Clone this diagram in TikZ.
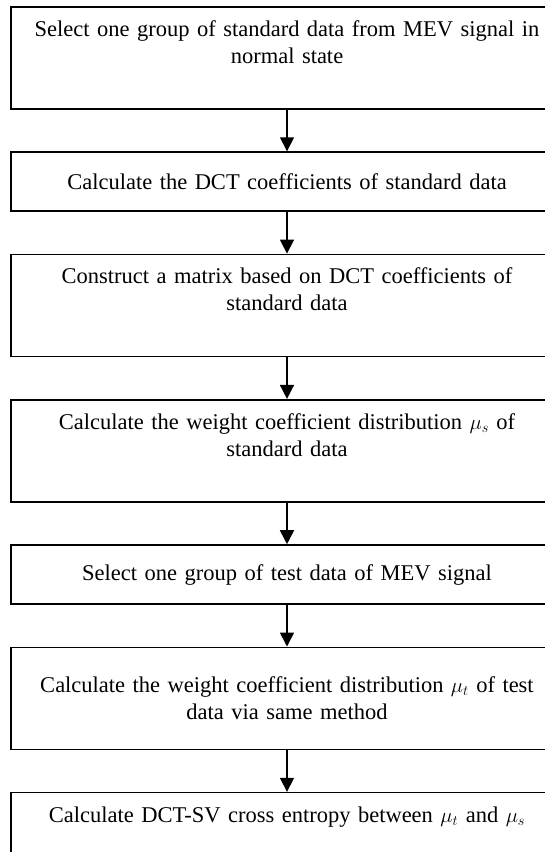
\documentclass[tikz,border=0pt]{standalone}
\usepackage{amsmath}
\usepackage{fontspec}
\setmainfont{Liberation Serif}
\usetikzlibrary{positioning,arrows.meta}
\def\stepsep{41.7pt}

\begin{document}
\begin{tikzpicture}[x=1pt,y=1pt,line width=1.6pt,node distance=\stepsep]
    \tikzstyle{process}=[draw,rectangle,text width=520pt,inner xsep=16pt,inner ysep=0pt,align=center,minimum height=59pt,font=\fontsize{22.5}{27}\selectfont]
    \tikzstyle{tall process}=[process,minimum height=102pt]
    \tikzstyle{high text}=[text depth=59pt]
    \tikzstyle{flow}=[-{Triangle[length=14pt,width=14pt]}]

    \useasboundingbox (0,0) rectangle (544,-852);

    % Draw the steps of the method
    \node[tall process, high text, anchor=north] (S-1) at (287,-6)
        {Select one group of standard data from MEV signal in\\ normal state};
    \node[process, below=of S-1] (S-2)
        {Calculate the DCT coefficients of standard data};
    \node[tall process, high text, below=of S-2] (S-3)
        {Construct a matrix based on DCT coefficients of\\ standard data};
    \node[tall process, high text, below=of S-3] (S-4)
        {Calculate the weight coefficient distribution $\mu_s$ of\\ standard data};
    \node[process, below=of S-4] (S-5)
        {Select one group of test data of MEV signal};
    \node[tall process, below=of S-5] (S-6)
        {Calculate the weight coefficient distribution $\mu_t$ of test\\ data via same method};
    \node[process, below=of S-6, minimum height=66pt, text depth=22pt] (S-7)
        {Calculate DCT-SV cross entropy between $\mu_t$ and $\mu_s$};

    % Connect every step with the next one
    \foreach \source/\dest in {1/2,2/3,3/4,4/5,5/6,6/7}
        \draw[flow] (S-\source) -- (S-\dest);
\end{tikzpicture}
\end{document}
